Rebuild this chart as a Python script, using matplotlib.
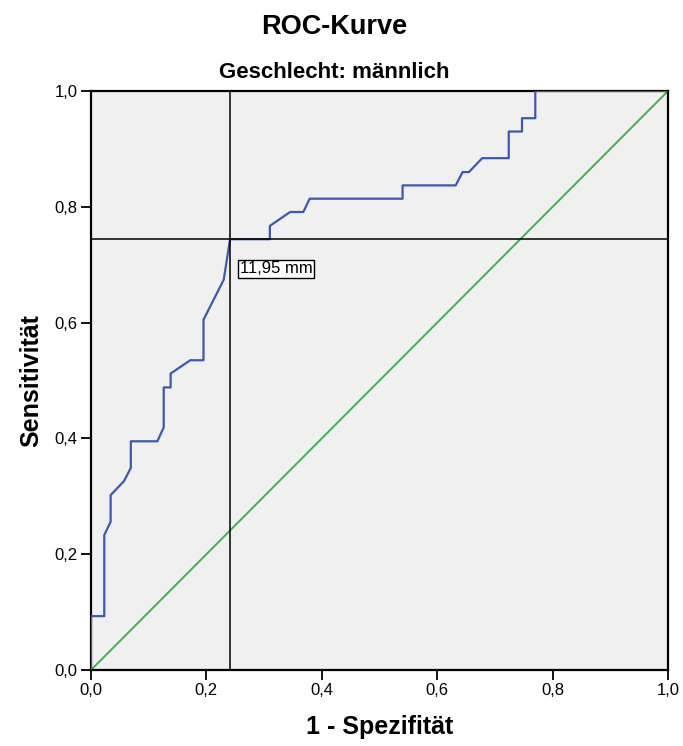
import numpy as np
import matplotlib
matplotlib.use('Agg')
import matplotlib.pyplot as plt

plt.rcParams['font.family'] = ['Liberation Sans', 'DejaVu Sans']

# ROC curve vertices (1 - Spezifitaet, Sensitivitaet)
fpr = [0.0, 0.0, 0.023, 0.023, 0.034, 0.034, 0.057, 0.069, 0.069, 0.115, 0.126,
       0.126, 0.138, 0.138, 0.172, 0.195, 0.195, 0.230, 0.241, 0.310, 0.310,
       0.345, 0.368, 0.379, 0.540, 0.540, 0.632, 0.644, 0.655, 0.678, 0.724,
       0.724, 0.747, 0.747, 0.770, 0.770, 1.0]
tpr = [0.0, 0.093, 0.093, 0.233, 0.256, 0.302, 0.326, 0.349, 0.395, 0.395, 0.419,
       0.488, 0.488, 0.512, 0.535, 0.535, 0.605, 0.674, 0.744, 0.744, 0.767,
       0.791, 0.791, 0.814, 0.814, 0.837, 0.837, 0.860, 0.860, 0.884, 0.884,
       0.930, 0.930, 0.953, 0.953, 1.0, 1.0]

# optimal cut-off point
cut_x = 0.241
cut_y = 0.744
cut_label = '11,95 mm'

ticks = [0.0, 0.2, 0.4, 0.6, 0.8, 1.0]
tick_labels = ['0,0', '0,2', '0,4', '0,6', '0,8', '1,0']

fig = plt.figure(figsize=(6.83, 7.46), dpi=100)
ax = fig.add_axes([91/683, 76/746, 577/683, 579/746])
ax.set_facecolor('#f0f0f0')

ax.plot([0, 1], [0, 1], color='#3cb44b', lw=1.4, zorder=2)
ax.plot(fpr, tpr, color='#3e58ac', lw=1.6, zorder=3)
ax.axvline(cut_x, color='black', lw=1.1, zorder=4)
ax.axhline(cut_y, color='black', lw=1.1, zorder=4)
ax.annotate(cut_label, xy=(cut_x, cut_y), xytext=(10, -22), textcoords='offset pixels',
            ha='left', va='top', fontsize=12,
            bbox=dict(boxstyle='square,pad=0.1', fc='white', ec='black', lw=1.0), zorder=5)

ax.set_xlim(0, 1)
ax.set_ylim(0, 1)
ax.set_xticks(ticks)
ax.set_xticklabels(tick_labels)
ax.set_yticks(ticks)
ax.set_yticklabels(tick_labels)
ax.tick_params(direction='out', length=7.5, width=1.3, labelsize=12, pad=2)
for s in ax.spines.values():
    s.set_linewidth(1.6)

ax.set_xlabel('1 - Spezifität', fontsize=18, fontweight='bold', labelpad=12)
ax.set_ylabel('Sensitivität', fontsize=18, fontweight='bold', labelpad=8)
fig.text(0.49, 1 - 72/746, 'Geschlecht: männlich', ha='center', va='center',
         fontsize=16, fontweight='bold')
fig.text(0.49, 1 - 27/746, 'ROC-Kurve', ha='center', va='center', fontsize=19.5, fontweight='bold')

plt.savefig('out.png', dpi=100)
